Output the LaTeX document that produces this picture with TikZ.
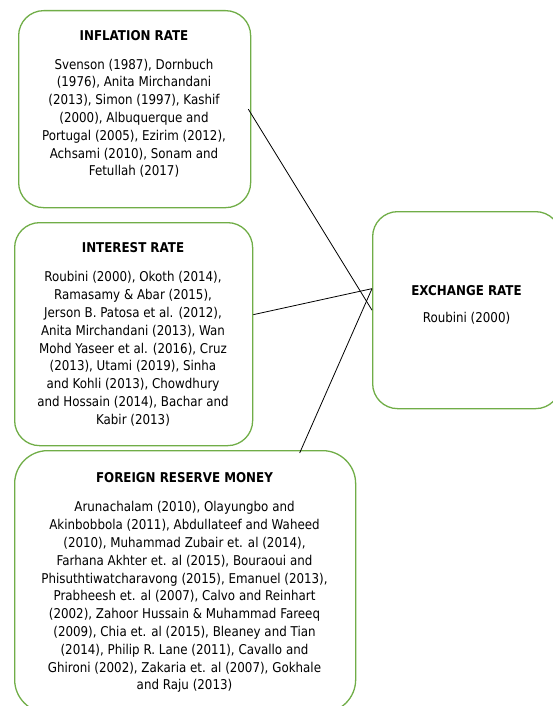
\documentclass[tikz,border=0pt]{standalone}
\usepackage{fontspec}
\setmainfont{DejaVu Sans}[FakeStretch=0.88]
\definecolor{boxgreen}{RGB}{112,173,71}
\begin{document}
\begin{tikzpicture}[x=1pt,y=-1pt,
  box/.style={draw=boxgreen, line width=1.3pt, rounded corners=25pt, inner sep=0pt, anchor=north west},
  ttl/.style={font=\bfseries\fontsize{13.5}{17.8}\selectfont, anchor=base, inner sep=0pt},
  body/.style={font=\fontsize{13.5}{17.8}\selectfont, align=center, anchor=north, inner sep=0pt},
  link/.style={draw=black, line width=0.8pt}]
\useasboundingbox (0,0) rectangle (553,706);
\clip (0,0) rectangle (553,706);
% boxes
\node[box, minimum width=232pt, minimum height=197pt] (infl) at (18,10) {};
\node[box, minimum width=238pt, minimum height=223pt] (int) at (14,222) {};
\node[box, rounded corners=33pt, minimum width=341pt, minimum height=262pt] (fr) at (14,450) {};
\node[box, minimum width=188pt, minimum height=197pt] (ex) at (372,211) {};
% texts
\node[ttl] (inflT) at (134,40.7) {INFLATION RATE};
\node[body] (inflB) at (134,58.7) {Svenson (1987), Dornbuch\\(1976), Anita Mirchandani\\(2013), Simon (1997), Kashif\\(2000), Albuquerque and\\Portugal (2005), Ezirim (2012),\\Achsami (2010), Sonam and\\Fetullah (2017)};
\node[ttl] (intT) at (133,252.3) {INTEREST RATE};
\node[body] (intB) at (133,271.4) {Roubini (2000), Okoth (2014),\\Ramasamy \& Abar (2015),\\Jerson B. Patosa et al. (2012),\\Anita Mirchandani (2013), Wan\\Mohd Yaseer et al. (2016), Cruz\\(2013), Utami (2019), Sinha\\and Kohli (2013), Chowdhury\\and Hossain (2014), Bachar and\\Kabir (2013)};
\node[ttl] (frT) at (184.5,482.3) {FOREIGN RESERVE MONEY};
\node[body] (frB) at (184.5,501.4) {Arunachalam (2010), Olayungbo and\\Akinbobbola (2011), Abdullateef and Waheed\\(2010), Muhammad Zubair et. al (2014),\\Farhana Akhter et. al (2015), Bouraoui and\\Phisuthtiwatcharavong (2015), Emanuel (2013),\\Prabheesh et. al (2007), Calvo and Reinhart\\(2002), Zahoor Hussain \& Muhammad Fareeq\\(2009), Chia et. al (2015), Bleaney and Tian\\(2014), Philip R. Lane (2011), Cavallo and\\Ghironi (2002), Zakaria et. al (2007), Gokhale\\and Raju (2013)};
\node[ttl] (exT) at (466.5,295) {EXCHANGE RATE};
\node[body] (exB) at (466.5,312.4) {Roubini (2000)};
% connectors
\draw[link] ([xshift=-3pt]infl.east) -- (ex.west);
\draw[link] ([yshift=19.5pt]int.east) -- ([yshift=21.5pt]ex.west);
\draw[link] ([xshift=114.5pt,yshift=-3pt]fr.north) -- ([yshift=21.5pt]ex.west);
\end{tikzpicture}
\end{document}
